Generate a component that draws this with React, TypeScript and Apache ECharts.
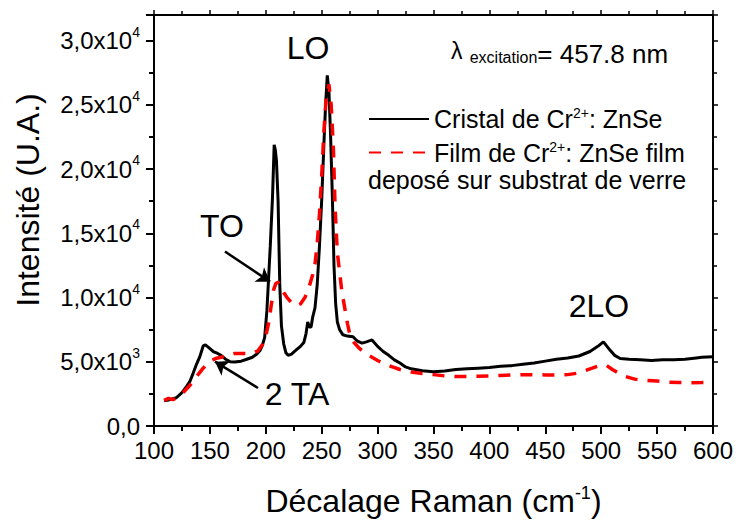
import React, { useEffect, useRef } from 'react';
import * as echarts from 'echarts';

// Raman shift (cm-1) and intensity (a.u.) — crystal Cr2+:ZnSe
const crystalX = [109, 114, 120, 125, 129, 132, 135, 138, 141, 144, 146, 149, 153, 157, 160, 164, 168, 172, 178, 183, 188, 192, 195, 197, 199, 201, 202.5, 204, 206, 207.5, 208.5, 209.5, 211, 212.5, 214, 216, 218, 220, 223, 227, 231, 234, 236, 237.5, 239, 240.5, 242, 244, 246, 248, 250, 252, 253.5, 255, 256.5, 258, 259.5, 261, 262.5, 264, 266, 269, 273, 278, 282, 286, 290, 295, 300, 305, 310, 315, 320, 325, 330, 340, 350, 360, 370, 380, 390, 400, 410, 420, 430, 440, 450, 460, 470, 480, 490, 497, 502, 507, 512, 517, 525, 535, 545, 555, 565, 575, 585, 590, 600];
const crystalY = [1970, 2050, 2200, 2600, 3060, 3450, 4100, 4800, 5400, 6230, 6310, 6100, 5800, 5650, 5500, 5200, 5010, 4980, 5050, 5200, 5350, 5600, 5900, 6300, 6900, 9000, 11500, 14000, 17800, 21900, 21500, 20700, 17500, 11000, 7800, 6400, 5700, 5500, 5600, 5900, 6200, 6500, 7200, 8100, 7700, 7700, 8500, 9200, 11000, 14000, 17600, 22000, 25000, 27300, 26000, 22500, 18000, 12500, 9500, 8100, 7500, 7100, 7000, 6950, 6600, 6450, 6550, 6700, 6200, 5800, 5500, 5150, 4900, 4600, 4450, 4300, 4230, 4280, 4400, 4450, 4500, 4550, 4650, 4700, 4800, 4900, 5050, 5200, 5300, 5450, 5800, 6200, 6550, 6000, 5500, 5250, 5200, 5150, 5100, 5150, 5150, 5200, 5300, 5350, 5400];

// film Cr2+:ZnSe on glass substrate
const filmX = [109, 113, 117, 121, 126, 132, 138, 144, 150, 155, 160, 166, 172, 180, 188, 193, 197, 200, 203, 205, 207, 209, 211, 213, 216, 219, 223, 227, 231, 235, 239, 242, 244, 246, 248, 250, 252, 254, 256.5, 258.5, 260.5, 262, 264, 266, 268, 271, 273, 275, 279, 283, 287, 292, 300, 310, 320, 330, 340, 350, 360, 370, 380, 390, 400, 410, 420, 430, 440, 450, 460, 470, 478, 485, 492, 500, 505, 510, 515, 522, 530, 540, 550, 560, 570, 580, 590, 600];
const filmY = [2000, 2150, 2050, 2250, 2600, 3150, 3850, 4500, 5050, 5250, 5350, 5550, 5650, 5650, 5650, 5850, 6350, 7000, 8200, 9500, 10600, 11100, 11200, 10900, 10400, 10000, 9600, 9350, 9500, 10000, 10900, 11800, 12600, 14200, 16500, 19500, 23000, 25500, 26600, 25000, 21500, 17000, 13500, 12000, 10500, 9000, 8000, 7200, 6500, 6100, 5800, 5500, 5100, 4700, 4400, 4200, 4080, 4000, 3900, 3850, 3850, 3880, 3900, 3930, 3970, 4000, 4000, 3980, 3970, 4000, 4100, 4300, 4500, 4750, 4700, 4400, 4150, 3850, 3650, 3550, 3500, 3420, 3380, 3370, 3380, 3400];

const X_MIN = 100;
const X_MAX = 600;
const X_STEP = 50;
const Y_MIN = 0;
const Y_MAX = 32000;
const Y_STEP = 5000;

const seriesNames = ['Cristal de Cr2+: ZnSe', 'Film de Cr2+: ZnSe film'];
const legendRich = ['Cristal de Cr{sup|2+}: ZnSe', 'Film de Cr{sup|2+}: ZnSe film'];
const legendExtra = 'deposé sur substrat de verre';
const excitationLabel = ['λ', 'excitation', '= 457.8 nm'];
const peakLabels = ['LO', 'TO', '2 TA', '2LO'];

// arrows (data coordinates): [fromX, fromY, toX, toY]
const toArrow = [163.5, 13580, 203.8, 11240];
const taArrow = [193, 2960, 154.6, 5010];

const FONT = '"Liberation Sans", Arial, Helvetica, sans-serif';

function yLabel(v: number): string {
  if (v === 0) return '0,0';
  if (v % Y_STEP !== 0) return '';
  const e = Math.floor(Math.log10(v) + 1e-9);
  const m = v / Math.pow(10, e);
  return `{b|${m.toFixed(1).replace('.', ',')}x10}{sup|${e}}`;
}

export default function App() {
  const ref = useRef<HTMLDivElement>(null);

  useEffect(() => {
    if (!ref.current) return;
    const chart = echarts.init(ref.current, null, { renderer: 'svg' });

    const crystal = crystalX.map((x, i) => [x, crystalY[i]]);
    const film = filmX.map((x, i) => [x, filmY[i]]);

    const axisLine = { show: true, onZero: false, lineStyle: { color: '#000', width: 2 } };

    const option: any = {
      animation: false,
      textStyle: { fontFamily: FONT },
      grid: { left: 154, right: 23, top: 15, bottom: 97, containLabel: false },
      xAxis: [
        {
          type: 'value', min: X_MIN, max: X_MAX, interval: X_STEP, position: 'bottom',
          axisLine,
          axisTick: { show: true, inside: false, length: 8, lineStyle: { color: '#000', width: 2 } },
          minorTick: { show: true, splitNumber: 2, length: 5, lineStyle: { color: '#000', width: 2 } },
          splitLine: { show: false },
          axisLabel: { color: '#000', fontSize: 24, margin: 12, fontFamily: FONT },
          name: 'Décalage Raman (cm{sup|-1})',
          nameLocation: 'middle',
          nameGap: 58,
          nameTextStyle: {
            color: '#000', fontSize: 32, fontFamily: FONT,
            rich: { sup: { fontSize: 18, padding: [0, 0, 16, 0], color: '#000', fontFamily: FONT } },
          },
        },
        {
          type: 'value', min: X_MIN, max: X_MAX, interval: X_STEP, position: 'top',
          axisLine,
          axisTick: { show: true, inside: false, length: 5, lineStyle: { color: '#000', width: 1.5 } },
          minorTick: { show: true, splitNumber: 2, length: 4, lineStyle: { color: '#000', width: 1.5 } },
          splitLine: { show: false },
          axisLabel: { show: false },
        },
      ],
      yAxis: [
        {
          type: 'value', min: Y_MIN, max: Y_MAX, interval: Y_STEP, position: 'left',
          axisLine,
          axisTick: { show: true, inside: false, length: 8, lineStyle: { color: '#000', width: 2 } },
          minorTick: { show: true, splitNumber: 2, length: 5, lineStyle: { color: '#000', width: 2 } },
          splitLine: { show: false },
          axisLabel: {
            color: '#000', fontSize: 24, margin: 14, fontFamily: FONT,
            formatter: yLabel,
            rich: {
              b: { fontSize: 24, color: '#000', fontFamily: FONT },
              sup: { fontSize: 14, padding: [0, 0, 18, 0], color: '#000', fontFamily: FONT },
            },
          },
        },
        {
          type: 'value', min: Y_MIN, max: Y_MAX, interval: Y_STEP, position: 'right',
          axisLine,
          axisTick: { show: true, inside: false, length: 5, lineStyle: { color: '#000', width: 1.5 } },
          minorTick: { show: true, splitNumber: 2, length: 4, lineStyle: { color: '#000', width: 1.5 } },
          splitLine: { show: false },
          axisLabel: { show: false },
        },
      ],
      legend: {
        orient: 'vertical',
        left: 368,
        top: 106,
        padding: 0,
        itemGap: 8,
        itemWidth: 60,
        itemHeight: 14,
        data: seriesNames,
        itemStyle: { opacity: 0 },
        formatter: (name: string) => legendRich[seriesNames.indexOf(name)],
        textStyle: {
          color: '#000', fontSize: 25, fontFamily: FONT,
          rich: { sup: { fontSize: 14, padding: [0, 0, 12, 0], color: '#000', fontFamily: FONT } },
        },
      },
      series: [
        {
          name: seriesNames[0],
          type: 'line',
          data: crystal,
          symbol: 'none',
          lineStyle: { color: '#000', width: 3 },
          itemStyle: { color: '#000' },
          z: 2,
          markLine: {
            silent: true,
            symbol: ['none', 'arrow'],
            symbolSize: 13,
            label: { show: false },
            lineStyle: { color: '#000', width: 2.5, type: 'solid' },
            emphasis: { disabled: true },
            data: [
              [{ coord: [toArrow[0], toArrow[1]] }, { coord: [toArrow[2], toArrow[3]] }],
              [{ coord: [taArrow[0], taArrow[1]] }, { coord: [taArrow[2], taArrow[3]] }],
            ],
          },
        },
        {
          name: seriesNames[1],
          type: 'line',
          data: film,
          symbol: 'none',
          lineStyle: { color: '#ff0000', width: 3.5, type: [12, 10] },
          itemStyle: { color: '#ff0000' },
          z: 3,
        },
      ],
      graphic: [
        {
          type: 'text', x: 28, y: 200, rotation: Math.PI / 2,
          style: { text: 'Intensité (U.A.)', fontSize: 32, fontFamily: FONT, fill: '#000', align: 'center', verticalAlign: 'middle' },
        },
        {
          type: 'text', x: 308, y: 48,
          style: { text: peakLabels[0], fontSize: 32, fontFamily: FONT, fill: '#000', align: 'center', verticalAlign: 'middle' },
        },
        {
          type: 'text', x: 222, y: 226,
          style: { text: peakLabels[1], fontSize: 32, fontFamily: FONT, fill: '#000', align: 'center', verticalAlign: 'middle' },
        },
        {
          type: 'text', x: 297, y: 394,
          style: { text: peakLabels[2], fontSize: 32, fontFamily: FONT, fill: '#000', align: 'center', verticalAlign: 'middle' },
        },
        {
          type: 'text', x: 599, y: 306,
          style: { text: peakLabels[3], fontSize: 32, fontFamily: FONT, fill: '#000', align: 'center', verticalAlign: 'middle' },
        },
        {
          type: 'text', x: 368, y: 180,
          style: { text: legendExtra, fontSize: 25, fontFamily: FONT, fill: '#000', align: 'left', verticalAlign: 'middle' },
        },
        {
          type: 'text', x: 451, y: 54,
          style: {
            text: `{l|${excitationLabel[0]}} {s|${excitationLabel[1]}}{b|${excitationLabel[2]}}`,
            fontSize: 26, fontFamily: FONT, fill: '#000', align: 'left', verticalAlign: 'middle',
            rich: {
              l: { fontSize: 23, fontFamily: FONT, fill: '#000', padding: [0, 0, 6, 0] },
              s: { fontSize: 16, fontFamily: FONT, fill: '#000', padding: [7, 0, 0, 0] },
              b: { fontSize: 26, fontFamily: FONT, fill: '#000' },
            },
          },
        },
      ],
    };

    chart.setOption(option);
    return () => chart.dispose();
  }, []);

  return (
    <div
      ref={ref}
      style={{ position: 'absolute', left: 0, top: 0, width: 736, height: 523, background: '#fff' }}
    />
  );
}
